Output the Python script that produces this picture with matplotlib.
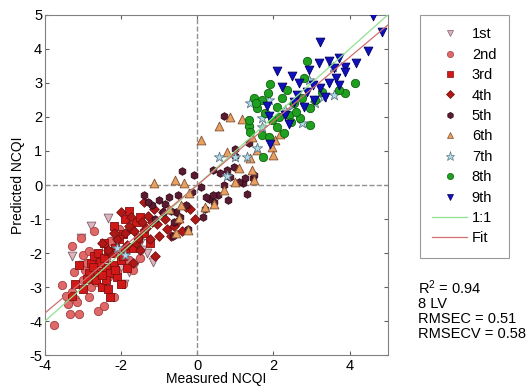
import matplotlib
matplotlib.use('Agg')
import matplotlib.pyplot as plt
from matplotlib.lines import Line2D

plt.rcParams['font.family'] = ['Liberation Sans', 'DejaVu Sans']
plt.rcParams['axes.unicode_minus'] = False

# grade groups: measured vs predicted NCQI
g1_x = [-3.28, -3.05, -2.8, -2.35, -1.93, -1.17, -1.32, -2.4, -2.7, -2.0, -1.5, -1.6, -3.0, -2.55,
        -1.8, -2.15, -2.9, -1.45]
g1_y = [-2.09, -1.56, -1.2, -0.98, -2.9, -2.26, -2.0, -2.3, -2.5, -2.4, -1.7, -2.3, -2.35, -2.15,
        -2.55, -1.65, -2.6, -1.9]

g2_x = [-3.75, -3.55, -3.35, -3.3, -3.1, -2.6, -2.2, -2.45, -3.2, -2.85, -3.0, -3.3, -2.7, -2.6, -2.95,
        -2.35, -1.95, -2.0, -3.45, -3.25, -2.8, -2.5, -2.1, -1.8, -2.9, -3.05, -2.75, -2.55, -2.4, -1.6,
        -3.4, -3.15, -2.65, -2.25, -1.7, -2.05, -3.0, -2.3, -1.5, -2.85]
g2_y = [-4.1, -2.95, -3.8, -3.15, -3.8, -3.7, -3.3, -3.55, -3.35, -3.3, -2.8, -1.8, -1.35, -2.2, -2.5,
        -2.7, -2.9, -2.0, -3.25, -2.55, -3.0, -3.0, -2.55, -2.2, -2.3, -1.55, -2.75, -2.45, -2.6, -1.75,
        -3.5, -3.45, -2.85, -2.0, -2.5, -1.3, -2.05, -1.65, -2.15, -1.95]

g3_x = [-3.3, -3.2, -2.8, -2.65, -2.5, -2.4, -2.3, -2.2, -2.1, -2.0, -1.9, -1.8, -2.6, -2.35, -2.15, -2.7,
        -2.45, -1.95, -1.75, -1.6, -1.5, -2.85, -2.55, -2.25, -2.05, -1.85, -3.0, -2.3, -1.4, -1.25, -2.2,
        -1.9, -2.4, -2.75, -2.0, -2.6, -2.45, -2.15, -1.7, -1.55, -2.9, -2.35, -1.95, -2.5, -3.1]
g3_y = [-3.25, -2.9, -2.3, -2.8, -3.0, -2.45, -2.6, -2.35, -2.7, -2.2, -1.9, -0.75, -2.55, -3.05, -1.85, -2.1,
        -1.7, -1.45, -1.3, -1.1, -0.95, -2.6, -2.25, -2.0, -1.6, -2.45, -3.05, -3.3, -1.4, -1.7, -1.2,
        -1.0, -2.8, -2.4, -2.9, -2.0, -2.15, -2.5, -1.85, -1.55, -2.75, -1.95, -2.1, -2.65, -2.35]

g4_x = [-2.5, -2.3, -2.1, -1.9, -1.8, -1.7, -1.6, -1.5, -1.4, -1.3, -1.2, -1.1, -1.0, -0.9, -0.8, -0.6,
        -0.4, -0.2, -0.05, -1.75, -1.55, -1.35, -1.15, -2.2, -2.0, -0.7, -0.5, -1.25, -0.3, -1.85,
        -1.45, -1.05, -0.85, -2.35, -1.65]
g4_y = [-1.7, -2.0, -1.6, -1.4, -1.2, -2.3, -1.7, -1.9, -0.5, -0.9, -1.1, -2.1, -1.5, -0.8, -1.3, -1.2,
        -1.35, -0.7, -1.0, -0.95, -1.55, -1.25, -0.7, -1.4, -0.8, -1.5, -1.05, -1.6, -0.65, -1.75,
        -1.1, -1.15, -1.0, -1.9, -1.35]

g5_x = [-1.4, -1.2, -1.1, -0.9, -0.75, -0.6, -0.5, -0.4, -0.3, -0.1, 0.1, 0.2, 0.3, 0.4, 0.55, 0.7,
        0.85, 1.0, 1.2, 1.3, 1.45, -0.85, -0.65, -0.45, -0.25, 0.15, 0.45, 0.8, 1.1, 1.5, -1.3, -0.55,
        0.69, 0.98, 1.35, 0.95, 0.77, 1.25, 0.24, 0.42, -1.0, -0.7, -0.15, 0.6]
g5_y = [-0.3, -0.6, -1.0, -0.8, -0.35, -1.1, -0.3, 0.4, -0.6, 0.3, -0.05, -0.7, -0.4, 0.45, -0.3, 0.0,
        0.25, 0.85, 0.05, -0.25, 0.2, -0.55, -1.5, -0.95, -1.3, -0.95, -0.5, -0.45, 0.1, 0.3, -0.5, -0.8,
        2.03, 1.06, 1.23, 0.53, 0.44, 0.2, -0.35, -0.3, -0.45, -0.75, -0.2, 0.35]

g6_x = [0.1, 0.58, 0.85, 1.17, 0.77, 1.09, 1.43, 1.48, 0.69, 1.38, 1.35, 1.43, 1.56, 1.96, 2.0, 2.04,
        2.17, -1.14, -0.58, -0.34, -0.21, -0.74, -0.42, -0.48, -0.24, -0.56, 0.45, 0.21, 0.98]
g6_y = [1.32, 1.74, 2.0, 1.94, 0.97, 0.5, 0.44, 0.15, -0.15, 0.79, 1.82, 1.41, 1.03, 1.12, 0.88, 1.32,
        1.5, 0.06, 0.15, 0.06, -0.23, -0.7, -0.59, -0.97, -1.32, -1.41, -0.56, -0.65, 0.09]

g7_x = [0.56, 0.98, 1.3, 1.56, 0.77, 1.7, 1.38, 1.88, 2.3, 3.1, 3.55, 3.6, 2.75, 1.7, 2.94, -2.1, -1.9,
        2.5, 3.3]
g7_y = [0.82, 0.82, 0.82, 1.09, 0.26, 1.97, 2.41, 2.5, 2.2, 2.41, 3.47, 2.65, 1.82, 1.7, 3.09, -1.85, -2.05,
        2.35, 2.6]

g8_x = [2.89, 1.91, 1.48, 1.7, 1.56, 1.35, 1.38, 1.7, 1.88, 1.72, 2.09, 2.28, 2.41, 2.7, 2.97, 2.36,
        2.75, 2.09, 2.54, 4.13, 3.87, 3.73, 2.81, 1.77, 1.35, 2.97, 3.28, 2.23, 1.96, 2.6, 2.15, 1.55,
        3.1, 2.45, 1.85]
g8_y = [3.65, 2.97, 2.56, 2.5, 2.26, 1.74, 1.56, 1.47, 1.41, 0.82, 1.71, 1.53, 2.06, 1.97, 1.76, 2.79,
        2.56, 2.29, 2.41, 3.0, 2.7, 2.79, 3.15, 2.12, 1.91, 2.26, 2.74, 2.56, 1.91, 2.15, 2.0, 2.4,
        2.5, 1.85, 2.7]

g9_x = [4.61, 4.85, 4.48, 3.23, 4.16, 3.47, 3.73, 3.87, 3.2, 2.94, 2.09, 2.49, 2.68, 3.63, 3.23, 3.36,
        3.07, 2.62, 2.23, 1.83, 2.3, 1.88, 1.91, 2.41, 2.81, 3.73, 3.87, 3.47, 2.89, 3.05, 2.55, 3.6]
g9_y = [4.97, 4.5, 3.94, 4.21, 3.59, 3.65, 3.74, 3.47, 3.59, 3.38, 3.35, 3.21, 3.0, 3.15, 2.85, 2.59,
        2.5, 2.65, 2.88, 2.32, 2.06, 2.03, 1.21, 1.79, 2.29, 2.94, 3.32, 3.0, 2.74, 2.95, 2.45, 3.45]

labels = ['1st', '2nd', '3rd', '4th', '5th', '6th', '7th', '8th', '9th']
xs = [g1_x, g2_x, g3_x, g4_x, g5_x, g6_x, g7_x, g8_x, g9_x]
ys = [g1_y, g2_y, g3_y, g4_y, g5_y, g6_y, g7_y, g8_y, g9_y]
markers = ['v', 'o', 's', 'D', 'h', '^', '*', 'o', 'v']
faces = ['#dcb4bc', '#e06868', '#d01818', '#b01818', '#5a1a30', '#e8a060', '#b0dce8', '#20a020', '#1010c0']
edges = ['#806068', '#a04040', '#801010', '#701010', '#300818', '#805030', '#607888', '#106010', '#000060']
sizes = [40, 36, 26, 24, 30, 40, 60, 36, 40]

fit_x = [-4, 5]
fit_y = [-3.76, 4.7]
one_x = [-4, 5]
one_y = [-4, 5]

fig = plt.figure(figsize=(5.29, 3.92), dpi=100)
ax = fig.add_axes([0.085, 0.094, 0.648, 0.868])

ax.axhline(0, color='#909090', ls='--', lw=1)
ax.axvline(0, color='#909090', ls='--', lw=1)

for i in range(9):
    ax.scatter(xs[i], ys[i], marker=markers[i], s=sizes[i], c=faces[i],
               edgecolors=edges[i], linewidths=0.6, zorder=3)

ax.plot(one_x, one_y, color='#90e090', lw=0.9, zorder=4)
ax.plot(fit_x, fit_y, color='#d07070', lw=0.9, zorder=4)

ax.set_xlim(-4, 5)
ax.set_ylim(-5, 5)
ax.set_xticks([-4, -2, 0, 2, 4])
ax.set_yticks(range(-5, 6))
ax.tick_params(direction='in', top=True, right=True, labelsize=10.5, length=3, color='#606060')
ax.tick_params(axis='y', pad=2)
ax.tick_params(axis='x', pad=3)
for s in ax.spines.values():
    s.set_color('#808080')
ax.set_xlabel('Measured NCQI', fontsize=10, labelpad=-1)
ax.set_ylabel('Predicted NCQI', fontsize=10, labelpad=3)

handles = []
for i in range(9):
    handles.append(Line2D([], [], ls='none', marker=markers[i], markersize=4.5 if markers[i] != '*' else 6.5,
                          markerfacecolor=faces[i], markeredgecolor=edges[i], markeredgewidth=0.5))
handles.append(Line2D([], [], color='#90e090', lw=0.9))
handles.append(Line2D([], [], color='#d07070', lw=0.9))
leg = fig.legend(handles, labels + ['1:1', 'Fit'], loc='upper left', bbox_to_anchor=(0.794, 0.962),
                 fontsize=10.5, frameon=True, fancybox=False, edgecolor='#808080',
                 labelspacing=0.44, handlelength=2.4, handletextpad=0.3, borderpad=0.85, borderaxespad=0)
leg.get_frame().set_linewidth(0.8)

fig.text(0.79, 0.29, '$\\mathregular{R^2}$ = 0.94\n8 LV\nRMSEC = 0.51\nRMSECV = 0.58',
         fontsize=10.5, va='top', ha='left', linespacing=1.05)

plt.savefig('out.png', dpi=100)
